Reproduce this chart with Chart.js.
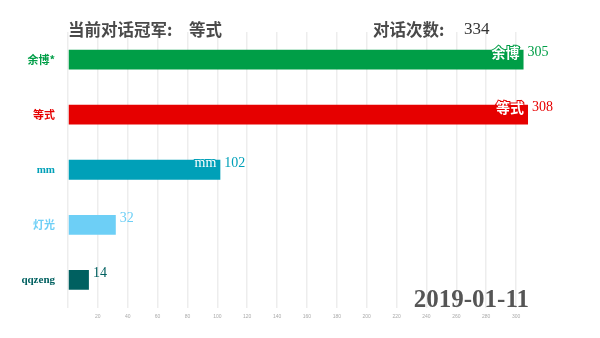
<!DOCTYPE html>
<html lang="zh">
<head>
  <meta charset="UTF-8">
  <title>对话冠军</title>
  <script src="https://cdn.jsdelivr.net/npm/chart.js@4.4.3/dist/chart.umd.min.js"></script>
  <style>
    body { margin: 0; background: #fff; }
    #wrap { width: 600px; height: 338px; position: relative; }
  </style>
</head>
<body>
  <div id="wrap"><canvas id="race"></canvas></div>

  <script>
    // data read from the frame
    const names = ['余博*', '等式', 'mm', '灯光', 'qqzeng'];
    const counts = [305, 308, 102, 32, 14];
    const barColors = ['#009e47', '#e60000', '#00a0b8', '#6dcff6', '#006060'];
    const innerNames = ['余博', '等式', 'mm', '', ''];
    const champion = '等式';
    const totalTalks = 334;
    const dateLabel = '2019-01-11';

    const serif = '"Liberation Serif", "Times New Roman", serif';
    const cjk = '"Noto Sans CJK SC", "Noto Sans", sans-serif';

    // labels on and beside the bars, plus the header texts
    const overlay = {
      id: 'overlay',
      afterDatasetsDraw(chart) {
        const ctx = chart.ctx;
        const meta = chart.getDatasetMeta(0);
        ctx.save();
        meta.data.forEach((bar, i) => {
          const top = bar.y - bar.height / 2;
          ctx.textBaseline = 'middle';
          // value right of the bar
          ctx.font = '14px ' + serif;
          ctx.fillStyle = barColors[i];
          ctx.textAlign = 'left';
          ctx.fillText(counts[i], bar.x + 4, top + 3);
          // name inside the bar end
          if (innerNames[i]) {
            const isLatin = /^[a-z]+$/i.test(innerNames[i]);
            ctx.font = isLatin ? '14px ' + serif : 'bold 14px ' + cjk;
            ctx.textAlign = 'right';
            ctx.lineWidth = 2;
            ctx.strokeStyle = barColors[i];
            ctx.strokeText(innerNames[i], bar.x - 4, top + 3);
            ctx.fillStyle = '#ffffff';
            ctx.fillText(innerNames[i], bar.x - 4, top + 3);
          }
        });

        ctx.textBaseline = 'middle';
        ctx.textAlign = 'left';
        ctx.fillStyle = '#4a4a4a';
        ctx.font = 'bold 16.5px ' + cjk;
        ctx.fillText('当前对话冠军:', 68, 29.5);
        ctx.fillText(champion, 189, 29.5);
        ctx.fillText('对话次数:', 373, 29.5);
        ctx.font = '17px ' + serif;
        ctx.fillStyle = '#333';
        ctx.fillText(totalTalks, 464, 29.5);

        ctx.font = 'bold 25px ' + serif;
        ctx.fillStyle = '#555';
        ctx.textAlign = 'right';
        ctx.fillText(dateLabel, 529, 301);
        ctx.restore();
      }
    };

    new Chart(document.getElementById('race'), {
      type: 'bar',
      data: {
        labels: names,
        datasets: [{
          data: counts,
          backgroundColor: barColors,
          borderWidth: 0,
          barPercentage: 0.36,
          categoryPercentage: 1
        }]
      },
      options: {
        indexAxis: 'y',
        responsive: true,
        maintainAspectRatio: false,
        animation: false,
        layout: { padding: { top: 32, right: 69, bottom: 0, left: 0 } },
        plugins: {
          legend: { display: false },
          tooltip: { enabled: false }
        },
        scales: {
          x: {
            min: 0,
            max: 310,
            border: { display: false },
            grid: {
              color: c => (c.tick && c.tick.value % 20 === 0) ? '#ededed' : 'rgba(0,0,0,0)',
              lineWidth: 1.5,
              drawTicks: false
            },
            ticks: {
              stepSize: 20,
              padding: 6,
              color: '#aaa',
              font: { size: 5 },
              callback: v => (v % 20 === 0 && v !== 0) ? v : ''
            },
            afterFit: s => { s.height = 30.5; }
          },
          y: {
            border: { display: false },
            grid: { display: false },
            ticks: {
              padding: 5,
              color: c => barColors[c.index],
              font: c => ({
                size: 11,
                weight: 'bold',
                family: /^[a-z]+$/i.test(names[c.index]) ? serif : cjk
              })
            },
            afterFit: s => { s.width = 68; }
          }
        }
      },
      plugins: [overlay]
    });
  </script>
</body>
</html>
